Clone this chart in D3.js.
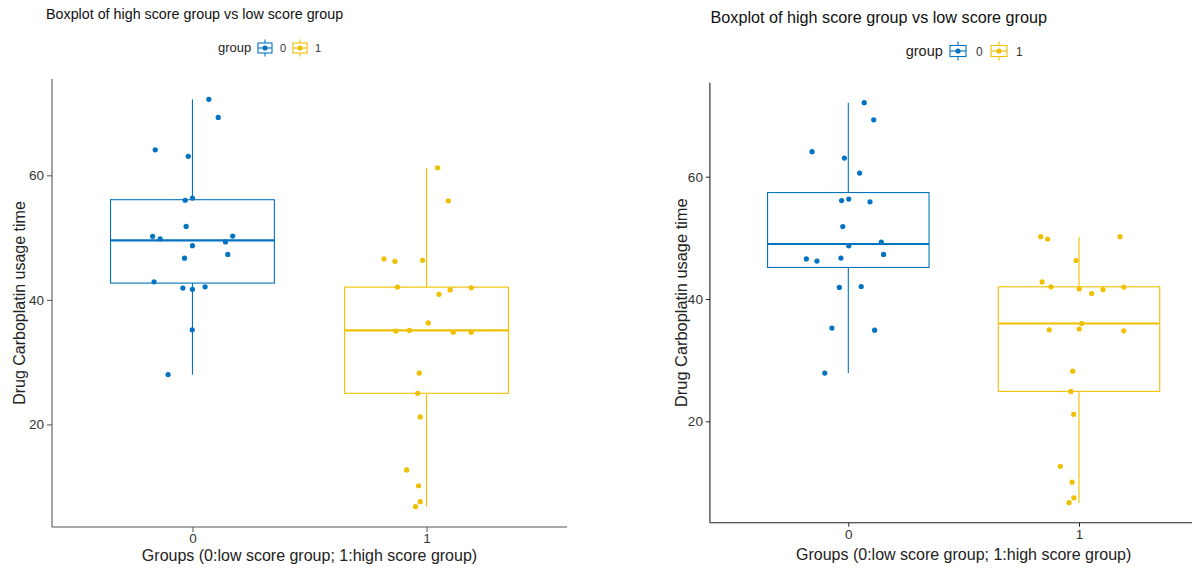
<!DOCTYPE html>
<html>
<head>
<meta charset="utf-8">
<script src="https://cdn.jsdelivr.net/npm/d3@7/dist/d3.min.js"></script>
<style>
  html, body { margin: 0; padding: 0; background: #fff; }
  svg { display: block; }
  text { font-family: "Liberation Sans", Arial, Helvetica, sans-serif; }
</style>
</head>
<body>
<svg id="chart" width="1192" height="569"></svg>
<script>
// ---------------- DATA ----------------
const categories = ["0", "1"];
const colors = ["#0073C2", "#EFC000"];
const yTicks = [20, 40, 60];
const titleText = "Boxplot of high score group vs low score group";
const xTitle = "Groups (0:low score group; 1:high score group)";
const yTitle = "Drug Carboplatin usage time";
const legendTitle = "group";

// Left panel values
const leftGroup0 = [72.2, 69.3, 64.1, 63.05, 56.0, 56.35, 51.8, 50.2, 49.8, 50.25,
                    48.7, 49.3, 46.7, 47.3, 42.9, 41.9, 41.7, 42.1, 35.2, 28.0];
const leftJitter0 = [0.070, 0.110, -0.159, -0.018, -0.031, 0.000, -0.027, -0.170, -0.138, 0.172,
                     0.000, 0.141, -0.034, 0.151, -0.164, -0.041, 0.000, 0.054, -0.001, -0.104];
const leftGroup1 = [61.2, 55.9, 46.6, 46.2, 46.35, 42.05, 40.9, 41.6, 41.95, 36.3,
                    35.0, 35.1, 34.8, 34.8, 28.25, 25.0, 21.2, 12.7, 10.15, 7.6, 6.8];
const leftJitter1 = [0.047, 0.093, -0.182, -0.135, -0.017, -0.124, 0.053, 0.101, 0.191, 0.007,
                     -0.131, -0.073, 0.114, 0.191, -0.031, -0.038, -0.027, -0.085, -0.034, -0.027, -0.047];

// Right panel values
const rightGroup0 = [72.1, 69.3, 64.1, 63.05, 60.6, 56.1, 56.35, 55.9, 51.85, 49.3,
                     48.7, 47.3, 46.55, 46.2, 46.7, 41.9, 42.05, 35.25, 34.9, 27.9];
const rightJitter0 = [0.069, 0.110, -0.157, -0.017, 0.049, -0.029, 0.002, 0.094, -0.024, 0.143,
                      0.002, 0.153, -0.182, -0.136, -0.032, -0.039, 0.056, -0.071, 0.114, -0.102];
const rightGroup1 = [50.2, 49.8, 50.2, 46.3, 42.8, 42.0, 41.65, 40.9, 41.55, 41.95,
                     36.0, 34.97, 35.1, 34.8, 28.2, 24.9, 21.15, 12.65, 10.05, 7.5, 6.7];
const rightJitter1 = [-0.166, -0.136, 0.178, -0.013, -0.160, -0.121, 0.001, 0.055, 0.104, 0.194,
                      0.012, -0.129, 0.001, 0.194, -0.027, -0.035, -0.023, -0.081, -0.030, -0.022, -0.043];

// ---------------- LAYOUT ----------------
const panels = [
  {
    groups: [leftGroup0, leftGroup1], jitters: [leftJitter0, leftJitter1],
    x0: 52, x1: 567, yTop: 79, yBot: 527,
    axisColor: "#555", tickSize: 5, tickPad: 3, tickFont: 13.5, tickColor: "#333",
    title: { x: 46, y: 19, size: 14.3 },
    yTitleX: 19, yTitleSize: 16, xTitleY: 561, xTitleSize: 16, xTickY: 543,
    legend: { x: 218, y: 52, titleSize: 13, labelSize: 11, key1: 265, lab1: 280, key2: 300, lab2: 315, keyY: 48, kw: 14, kh: 10, kl: 17 }
  },
  {
    groups: [rightGroup0, rightGroup1], jitters: [rightJitter0, rightJitter1],
    x0: 709.9, x1: 1217.4, yTop: 82.7, yBot: 522.7,
    axisColor: "#222", tickSize: 4, tickPad: 3, tickFont: 13.5, tickColor: "#333",
    title: { x: 710.5, y: 23, size: 16.2 },
    yTitleX: 681, yTitleSize: 16.4, xTitleY: 560, xTitleSize: 16, xTickY: 539,
    legend: { x: 905.7, y: 56, titleSize: 14.5, labelSize: 12, key1: 958, lab1: 976, key2: 999, lab2: 1016, keyY: 51, kw: 16, kh: 11, kl: 19 }
  }
];

const svg = d3.select("#chart");

function boxStats(values) {
  const s = values.slice().sort(d3.ascending);
  const q1 = d3.quantile(s, 0.25), med = d3.quantile(s, 0.5), q3 = d3.quantile(s, 0.75);
  const iqr = q3 - q1;
  const lo = d3.min(s.filter(v => v >= q1 - 1.5 * iqr));
  const hi = d3.max(s.filter(v => v <= q3 + 1.5 * iqr));
  return { q1, med, q3, lo, hi };
}

panels.forEach(p => {
  const g = svg.append("g");
  const all = p.groups.flat();
  const mn = d3.min(all), mx = d3.max(all), rg = mx - mn;
  const y = d3.scaleLinear().domain([mn - 0.05 * rg, mx + 0.05 * rg]).range([p.yBot, p.yTop]);
  const x = d3.scalePoint().domain(categories).range([p.x0, p.x1]).padding(0.6);
  const step = x.step();
  const boxW = 0.7 * step;

  // boxes
  p.groups.forEach((vals, i) => {
    const st = boxStats(vals);
    const cx = x(categories[i]);
    const c = colors[i];
    const bg = g.append("g");
    bg.append("line").attr("x1", cx).attr("x2", cx).attr("y1", y(st.hi)).attr("y2", y(st.q3))
      .attr("stroke", c).attr("stroke-width", 1.1);
    bg.append("line").attr("x1", cx).attr("x2", cx).attr("y1", y(st.q1)).attr("y2", y(st.lo))
      .attr("stroke", c).attr("stroke-width", 1.1);
    bg.append("rect").attr("x", cx - boxW / 2).attr("y", y(st.q3))
      .attr("width", boxW).attr("height", y(st.q1) - y(st.q3))
      .attr("fill", "#fff").attr("stroke", c).attr("stroke-width", 1.1);
    bg.append("line").attr("x1", cx - boxW / 2).attr("x2", cx + boxW / 2)
      .attr("y1", y(st.med)).attr("y2", y(st.med))
      .attr("stroke", c).attr("stroke-width", 2.2);
  });

  // jittered points
  p.groups.forEach((vals, i) => {
    const cx = x(categories[i]);
    g.append("g").selectAll("circle").data(vals).join("circle")
      .attr("cx", (d, j) => cx + p.jitters[i][j] * step)
      .attr("cy", d => y(d))
      .attr("r", 2.6)
      .attr("fill", colors[i]);
  });

  // y axis
  const ya = g.append("g").attr("transform", `translate(${p.x0},0)`)
    .call(d3.axisLeft(y).tickValues(yTicks).tickSize(p.tickSize).tickPadding(p.tickPad).tickSizeOuter(0));
  ya.select(".domain").attr("stroke", p.axisColor).attr("stroke-width", 1.1)
    .attr("d", `M0,${p.yTop}V${p.yBot}`);
  ya.selectAll(".tick line").attr("stroke", p.axisColor);
  ya.selectAll(".tick text").attr("fill", p.tickColor).style("font-size", p.tickFont + "px")
    .style("font-family", '"Liberation Sans", Arial, sans-serif');

  // x axis
  const xa = g.append("g").attr("transform", `translate(0,${p.yBot})`)
    .call(d3.axisBottom(x).tickSize(p.tickSize).tickPadding(p.tickPad).tickSizeOuter(0));
  xa.select(".domain").attr("stroke", p.axisColor).attr("stroke-width", 1.1)
    .attr("d", `M${p.x0},0H${p.x1}`);
  xa.selectAll(".tick line").attr("stroke", p.axisColor);
  xa.selectAll(".tick text").attr("fill", p.tickColor).style("font-size", p.tickFont + "px")
    .style("font-family", '"Liberation Sans", Arial, sans-serif')
    .attr("dy", null).attr("y", p.xTickY - p.yBot);

  // axis titles
  g.append("text").attr("x", (p.x0 + p.x1) / 2).attr("y", p.xTitleY)
    .attr("text-anchor", "middle").style("font-size", p.xTitleSize + "px").attr("fill", "#222")
    .text(xTitle);
  g.append("text")
    .attr("transform", `translate(${p.yTitleX},${(p.yTop + p.yBot) / 2}) rotate(-90)`)
    .attr("text-anchor", "middle").attr("dy", "0.35em")
    .style("font-size", p.yTitleSize + "px").attr("fill", "#222")
    .text(yTitle);

  // title
  g.append("text").attr("x", p.title.x).attr("y", p.title.y)
    .style("font-size", p.title.size + "px").attr("fill", "#111").text(titleText);

  // legend
  const L = p.legend;
  g.append("text").attr("x", L.x).attr("y", L.y).style("font-size", L.titleSize + "px")
    .attr("fill", "#222").text(legendTitle);
  [[L.key1, L.lab1], [L.key2, L.lab2]].forEach(([kx, lx], i) => {
    const c = colors[i];
    const kg = g.append("g");
    kg.append("line").attr("x1", kx).attr("x2", kx).attr("y1", L.keyY - L.kl / 2).attr("y2", L.keyY + L.kl / 2)
      .attr("stroke", c).attr("stroke-width", 1.1);
    kg.append("rect").attr("x", kx - L.kw / 2).attr("y", L.keyY - L.kh / 2)
      .attr("width", L.kw).attr("height", L.kh).attr("fill", "#fff")
      .attr("stroke", c).attr("stroke-width", 1.1);
    kg.append("line").attr("x1", kx - L.kw / 2).attr("x2", kx + L.kw / 2)
      .attr("y1", L.keyY).attr("y2", L.keyY).attr("stroke", c).attr("stroke-width", 1.1);
    kg.append("circle").attr("cx", kx).attr("cy", L.keyY).attr("r", 2.6).attr("fill", c);
    g.append("text").attr("x", lx).attr("y", L.y).style("font-size", L.labelSize + "px")
      .attr("fill", "#333").text(categories[i]);
  });
});
</script>
</body>
</html>
